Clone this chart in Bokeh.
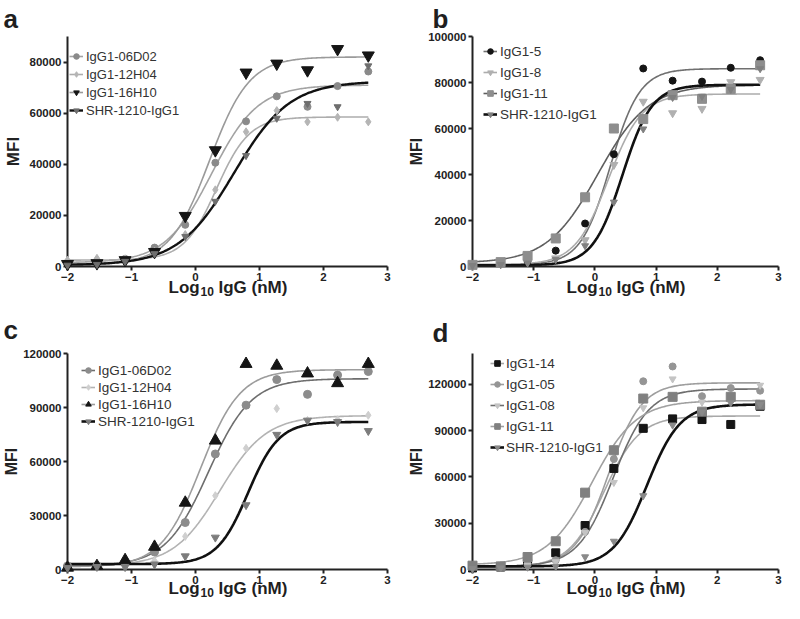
import numpy as np
from bokeh.plotting import figure
from bokeh.layouts import column, row
from bokeh.models import Range1d, FixedTicker, NumeralTickFormatter, Legend, LegendItem
from bokeh.core.properties import value
from bokeh.embed import file_html
from bokeh.resources import INLINE

FONT = "Liberation Sans"

# ---------------- data ----------------
log_conc = [-2.0, -1.54, -1.1, -0.64, -0.16, 0.31, 0.79, 1.27, 1.75, 2.22, 2.70]
x_ticks = [-2, -1, 0, 1, 2, 3]
x_label_parts = ["Log", "10", "IgG (nM)"]
y_label = "MFI"

# panel a
a_names = ["IgG1-06D02", "IgG1-12H04", "IgG1-16H10", "SHR-1210-IgG1"]
a_06D02 = [1500, 2000, 3000, 7400, 16300, 40600, 56800, 66600, 62500, 70600, 76300]
a_12H04 = [2500, 3200, 3000, 6000, 12500, 30000, 52700, 61000, 56600, 58400, 56600]
a_16H10 = [1000, 1300, 2500, 5700, 19800, 45500, 75900, 79400, 76800, 85100, 82600]
a_SHR = [500, 800, 2000, 5000, 11700, 25500, 43400, 58000, 63800, 62500, 78500]
# fitted 4PL curves: bottom, top, logEC50, hill slope
a_fit_06D02 = [1500, 71000, 0.25, 1.2]
a_fit_12H04 = [2500, 58500, 0.33, 1.7]
a_fit_16H10 = [1000, 82000, 0.22, 1.4]
a_fit_SHR = [500, 72500, 0.60, 1.0]
a_yticks = [0, 20000, 40000, 60000, 80000]
a_ymax = 90000

# panel b
b_names = ["IgG1-5", "IgG1-8", "IgG1-11", "SHR-1210-IgG1"]
b_5 = [700, 1400, 2400, 6900, 18700, 48800, 86100, 80800, 80400, 86400, 89700]
b_8 = [500, 1000, 2000, 3600, 11500, 44200, 71700, 66700, 68600, 80200, 81200]
b_11 = [700, 1900, 4600, 12200, 30100, 60000, 64100, 74500, 72900, 77200, 87500]
b_SHR = [400, 800, 1500, 3000, 9000, 28000, 59800, 73500, 74000, 77000, 86000]
b_fit_5 = [800, 86000, 0.25, 1.8]
b_fit_8 = [800, 75000, 0.22, 1.6]
b_fit_11 = [1500, 79000, 0.05, 1.05]
b_fit_SHR = [500, 79000, 0.45, 1.8]
b_yticks = [0, 20000, 40000, 60000, 80000, 100000]
b_ymax = 100000

# panel c
c_names = ["IgG1-06D02", "IgG1-12H04", "IgG1-16H10", "SHR-1210-IgG1"]
c_06D02 = [2000, 2200, 4300, 9700, 26100, 64200, 91300, 105500, 97300, 108000, 110000]
c_12H04 = [2000, 2000, 2000, 4800, 18400, 41000, 67300, 89400, 82800, 83200, 85700]
c_16H10 = [1000, 1900, 5200, 12600, 37100, 71600, 114200, 113200, 108900, 103500, 114200]
c_SHR = [1000, 1500, 1400, 2900, 7400, 17800, 35800, 74900, 82800, 82000, 77000]
c_fit_06D02 = [2000, 106000, 0.20, 1.3]
c_fit_12H04 = [2000, 85500, 0.38, 1.2]
c_fit_16H10 = [1500, 111000, 0.08, 1.4]
c_fit_SHR = [3000, 82000, 0.82, 1.8]
c_yticks = [0, 30000, 60000, 90000, 120000]
c_ymax = 120000

# panel d
d_names = ["IgG1-14", "IgG1-05", "IgG1-08", "IgG1-11", "SHR-1210-IgG1"]
d_14 = [1000, 1600, 4100, 10800, 28500, 65500, 91500, 97600, 97200, 94000, 105800]
d_05 = [2000, 2500, 3500, 6000, 24400, 71600, 122000, 131600, 112300, 117600, 115900]
d_08 = [1500, 2000, 2500, 5000, 24000, 56400, 104800, 123500, 108400, 110000, 119400]
d_11 = [2500, 2000, 8100, 18300, 49800, 77300, 110800, 111900, 102300, 111900, 106800]
d_SHR = [500, 1000, 1500, 2000, 8200, 18300, 47800, 93600, 102000, 108000, 107000]
d_fit_14 = [1500, 99500, 0.15, 1.5]
d_fit_05 = [2000, 121000, 0.22, 1.6]
d_fit_08 = [2000, 117000, 0.30, 1.5]
d_fit_11 = [3000, 109500, -0.05, 1.2]
d_fit_SHR = [2000, 107000, 0.85, 1.6]
d_yticks = [0, 30000, 60000, 90000, 120000]
d_ymax = 140000


def four_pl(x, bottom, top, logec50, hill):
    return bottom + (top - bottom) / (1.0 + 10.0 ** ((logec50 - x) * hill))


def add_text(p, x, y, txt, size, x_offset):
    p.text(x=[x], y=[y], text=[txt], x_offset=x_offset, text_font=value(FONT),
           text_font_style="bold", text_font_size=size, text_color="#1f1f1f",
           text_align="left", text_baseline="alphabetic", level="overlay")


def make_panel(letter, names, values, fits, styles, yticks, ymax, geom, leg,
               label_size, ylab_size, ylab_standoff, xlab_drop, letter_pos):
    W, H, left, right, top, bottom = geom
    p = figure(width=W, height=H, x_range=Range1d(-2, 3), y_range=Range1d(0, ymax),
               output_backend="svg", toolbar_location=None,
               min_border_left=left, min_border_right=right,
               min_border_top=top, min_border_bottom=bottom)
    p.grid.visible = False
    p.outline_line_color = None
    p.background_fill_color = "white"
    p.border_fill_color = "white"

    p.xaxis.ticker = FixedTicker(ticks=x_ticks)
    p.yaxis.ticker = FixedTicker(ticks=yticks)
    p.yaxis.formatter = NumeralTickFormatter(format="0")
    p.yaxis.axis_label = y_label
    for ax in (p.xaxis[0], p.yaxis[0]):
        ax.axis_line_width = 2
        ax.axis_line_color = "#222222"
        ax.major_tick_line_width = 2
        ax.major_tick_line_color = "#222222"
        ax.major_tick_out = 4
        ax.major_tick_in = 0
        ax.minor_tick_line_color = None
        ax.major_label_text_font = FONT
        ax.major_label_text_font_style = "bold"
        ax.major_label_text_font_size = "11.5px"
        ax.major_label_text_color = "#222222"
        ax.major_label_standoff = 2
        ax.axis_label_text_font = FONT
        ax.axis_label_text_font_style = "bold"
        ax.axis_label_text_color = "#222222"
    p.yaxis.axis_label_text_font_size = ylab_size
    p.yaxis.axis_label_standoff = ylab_standoff

    frame_h = H - top - bottom
    per_px = ymax / frame_h

    # x-axis title with a lowered "10" subscript, placed under the frame
    base_y = -xlab_drop * per_px
    sub_y = -(xlab_drop + 4) * per_px
    add_text(p, 0.5, base_y, x_label_parts[0], "17px", -59)
    add_text(p, 0.5, sub_y, x_label_parts[1], "12px", -27)
    add_text(p, 0.5, base_y, x_label_parts[2], "17px", -9)

    # panel letter
    lx_off, above = letter_pos
    add_text(p, -2, ymax + above * per_px, letter, "26px", lx_off)

    xs = np.linspace(-2.0, 2.7, 240)
    items = []
    for name, vals, fit, st in zip(names, values, fits, styles):
        marker, msize, mcolor, lcolor, lwidth = st
        lr = p.line(xs, four_pl(xs, *fit), line_color=lcolor, line_width=lwidth)
        sr = p.scatter(log_conc, vals, marker=marker, size=msize, fill_color=mcolor,
                       line_color=mcolor, level="overlay")
        items.append(LegendItem(label=name, renderers=[lr, sr]))

    lx, top_off, gh, sp, gw, standoff = leg
    n = len(items)
    leg_h = n * gh + (n - 1) * sp
    legend = Legend(items=items, location=(lx, frame_h - top_off - leg_h),
                    glyph_height=gh, glyph_width=gw, label_height=gh, spacing=sp,
                    padding=0, margin=0, label_standoff=standoff,
                    border_line_color=None, background_fill_alpha=0,
                    label_text_font=FONT, label_text_font_size=label_size,
                    label_text_color="#333333")
    p.add_layout(legend)
    return p


a_styles = [
    ("circle", 7, "#8a8a8a", "#a3a3a3", 1.6),
    ("diamond", 8, "#b5b5b5", "#adadad", 1.6),
    ("inverted_triangle", 12, "#151515", "#9a9a9a", 1.6),
    ("inverted_triangle", 7, "#6e6e6e", "#111111", 2.4),
]
b_styles = [
    ("circle", 7, "#151515", "#707070", 1.6),
    ("inverted_triangle", 8, "#b0b0b0", "#acacac", 1.6),
    ("square", 9, "#8e8e8e", "#5e5e5e", 1.6),
    ("inverted_triangle", 7, "#808080", "#111111", 2.6),
]
c_styles = [
    ("circle", 8, "#8c8c8c", "#6e6e6e", 1.6),
    ("diamond", 8, "#cfcfcf", "#b3b3b3", 1.6),
    ("triangle", 12, "#151515", "#9c9c9c", 1.6),
    ("inverted_triangle", 8, "#7c7c7c", "#111111", 2.6),
]
d_styles = [
    ("square", 8, "#151515", "#a8a8a8", 1.6),
    ("circle", 7, "#959595", "#9e9e9e", 1.6),
    ("inverted_triangle", 7, "#c4c4c4", "#6e6e6e", 1.6),
    ("square", 9, "#808080", "#a0a0a0", 1.6),
    ("inverted_triangle", 7, "#8a8a8a", "#111111", 2.6),
]

# geometry: (width, height, left, right, top, bottom); borders are shared per row / column
pa = make_panel("a", a_names, [a_06D02, a_12H04, a_16H10, a_SHR],
                [a_fit_06D02, a_fit_12H04, a_fit_16H10, a_fit_SHR], a_styles,
                a_yticks, a_ymax, (392, 301, 66, 5, 36, 35), (2, 11, 18, 0, 14, 3),
                "13px", "17px", 4, 21, (-64, 18))
pb = make_panel("b", b_names, [b_5, b_8, b_11, b_SHR],
                [b_fit_5, b_fit_8, b_fit_11, b_fit_SHR], b_styles,
                b_yticks, b_ymax, (392, 301, 80, 6, 36, 35), (11, 6, 18, 3, 14, 3),
                "13.5px", "16px", 0, 21, (-40, 18))
pc = make_panel("c", c_names, [c_06D02, c_12H04, c_16H10, c_SHR],
                [c_fit_06D02, c_fit_12H04, c_fit_16H10, c_fit_SHR], c_styles,
                c_yticks, c_ymax, (392, 302, 66, 5, 52, 34), (14, 9, 16, 1, 14, 3),
                "13.5px", "16px", 0, 19, (-64, 24))
pd = make_panel("d", d_names, [d_14, d_05, d_08, d_11, d_SHR],
                [d_fit_14, d_fit_05, d_fit_08, d_fit_11, d_fit_SHR], d_styles,
                d_yticks, d_ymax, (392, 302, 80, 6, 52, 34), (18, 1, 18, 3, 14, 2),
                "13.5px", "16px", 0, 19, (-40, 21))

layout = column(row(pa, pb), row(pc, pd))
open("out.html", "w").write(file_html(layout, INLINE))
